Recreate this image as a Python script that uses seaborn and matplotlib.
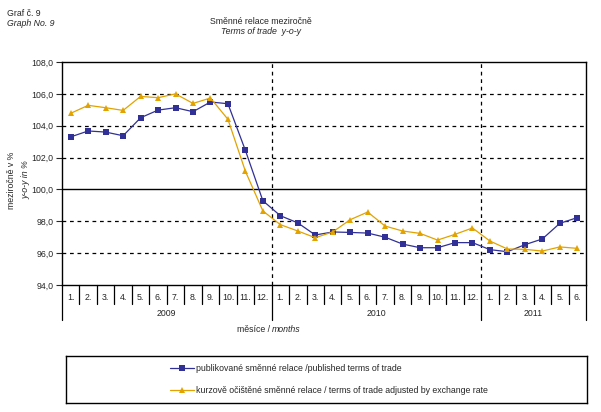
import pandas as pd
import numpy as np
import matplotlib
matplotlib.use("Agg")
import matplotlib.pyplot as plt
import matplotlib.transforms as mtransforms
import seaborn as sns

# data
months = ["1.", "2.", "3.", "4.", "5.", "6.", "7.", "8.", "9.", "10.", "11.", "12.",
          "1.", "2.", "3.", "4.", "5.", "6.", "7.", "8.", "9.", "10.", "11.", "12.",
          "1.", "2.", "3.", "4.", "5.", "6."]
years = ["2009", "2010", "2011"]
year_len = [12, 12, 6]

published = [103.3, 103.67, 103.6, 103.37, 104.5, 104.98, 105.13, 104.88, 105.49, 105.38, 102.45, 99.29,
             98.35, 97.9, 97.14, 97.33, 97.3, 97.26, 97.0, 96.57, 96.34, 96.34, 96.66, 96.66,
             96.22, 96.09, 96.53, 96.89, 97.87, 98.23]
adjusted = [104.78, 105.28, 105.13, 104.96, 105.84, 105.76, 106.0, 105.4, 105.74, 104.4, 101.14, 98.65,
            97.79, 97.39, 96.97, 97.33, 98.1, 98.58, 97.7, 97.39, 97.24, 96.82, 97.18, 97.58,
            96.76, 96.26, 96.24, 96.13, 96.39, 96.3]

lab_pub = "publikované směnné relace /published terms of trade"
lab_adj = "kurzově očištěné směnné relace / terms of trade adjusted by exchange rate"

n = len(months)
df = pd.DataFrame({
    "idx": list(range(n)) * 2,
    "value": published + adjusted,
    "series": [lab_pub] * n + [lab_adj] * n,
})

sns.set_style("white")
plt.rcParams["font.family"] = ["Liberation Sans", "DejaVu Sans"]
fs = 6.3

W, H = 601, 412
fig = plt.figure(figsize=(W / 100, H / 100), dpi=100)
ax = fig.add_axes([62 / W, 1 - 285 / H, 524 / W, 223 / H])

blue = "#303097"
gold = "#E2A300"

sns.lineplot(data=df, x="idx", y="value", hue="series", style="series",
             markers=["s", "^"], dashes=False, palette=[blue, gold],
             linewidth=0.9, markersize=4.2, markeredgewidth=0, ax=ax, zorder=3)

ax.set_xlim(-0.5, n - 0.5)
ax.set_ylim(94, 108)
yt = np.arange(94, 108.1, 2)
ax.set_yticks(yt)
ax.set_yticklabels([f"{v:.1f}".replace(".", ",") for v in yt], fontsize=fs)
ax.tick_params(axis="y", direction="out", length=4, width=0.8, pad=2, left=True)
ax.set_xticks([])
ax.set_xlabel("")
ax.set_ylabel("")
for s in ax.spines.values():
    s.set_linewidth(1.0)
    s.set_color("black")

for v in [96, 98, 102, 104, 106]:
    ax.axhline(v, color="black", lw=0.9, ls=(0, (3, 3)), zorder=1)
ax.axhline(100, color="black", lw=1.0, zorder=1)

# category axis below the plot
trans = mtransforms.blended_transform_factory(ax.transData, fig.transFigure)
y_axis = 1 - 285 / H
y_msep = 1 - 304 / H
y_ysep = 1 - 320 / H
for i, m in enumerate(months):
    ax.text(i, 1 - 297 / H, m, transform=trans, ha="center", va="center", fontsize=fs)
bounds = np.cumsum([0] + year_len) - 0.5
for i in range(1, n):
    if (i - 0.5) not in bounds:
        ax.plot([i - 0.5, i - 0.5], [y_axis, y_msep], transform=trans, color="black", lw=0.9, clip_on=False)
for b in bounds:
    ax.plot([b, b], [y_axis, y_ysep], transform=trans, color="black", lw=0.9, clip_on=False)
for b in bounds[1:-1]:
    ax.axvline(b, color="black", lw=0.9, ls=(0, (3, 3)), zorder=1)
for k, yr in enumerate(years):
    ax.text((bounds[k] + bounds[k + 1]) / 2, 1 - 313 / H, yr, transform=trans,
            ha="center", va="center", fontsize=fs)

fig.text(272 / W, 1 - 330 / H, "měsíce / ", ha="right", va="center", fontsize=fs)
fig.text(272 / W, 1 - 330 / H, "months", ha="left", va="center", fontsize=fs, style="italic")

# titles
fig.text(7 / W, 1 - 13 / H, "Graf č. 9", ha="left", va="center", fontsize=fs)
fig.text(7 / W, 1 - 24 / H, "Graph No. 9", ha="left", va="center", fontsize=fs, style="italic")
fig.text(261 / W, 1 - 22 / H, "Směnné relace meziročně", ha="center", va="center", fontsize=fs)
fig.text(261 / W, 1 - 32 / H, "Terms of trade  y-o-y", ha="center", va="center", fontsize=fs, style="italic")

fig.text(12 / W, 1 - 180 / H, "meziročně v %", rotation=90, ha="center", va="center", fontsize=fs)
fig.text(26 / W, 1 - 180 / H, "y-o-y in %", rotation=90, ha="center", va="center", fontsize=fs, style="italic")

# legend box
handles, labels = ax.get_legend_handles_labels()
ax.get_legend().remove()
lax = fig.add_axes([66 / W, 1 - 403 / H, 521 / W, 47 / H])
lax.set_xticks([])
lax.set_yticks([])
for s in lax.spines.values():
    s.set_linewidth(1.0)
    s.set_color("black")
lax.legend(handles, labels, loc="center left", bbox_to_anchor=(100 / 521, 0.5),
           frameon=False, fontsize=fs, handlelength=2.8, handletextpad=0.2,
           labelspacing=1.5, borderaxespad=0)

fig.savefig("out.png", dpi=100)
